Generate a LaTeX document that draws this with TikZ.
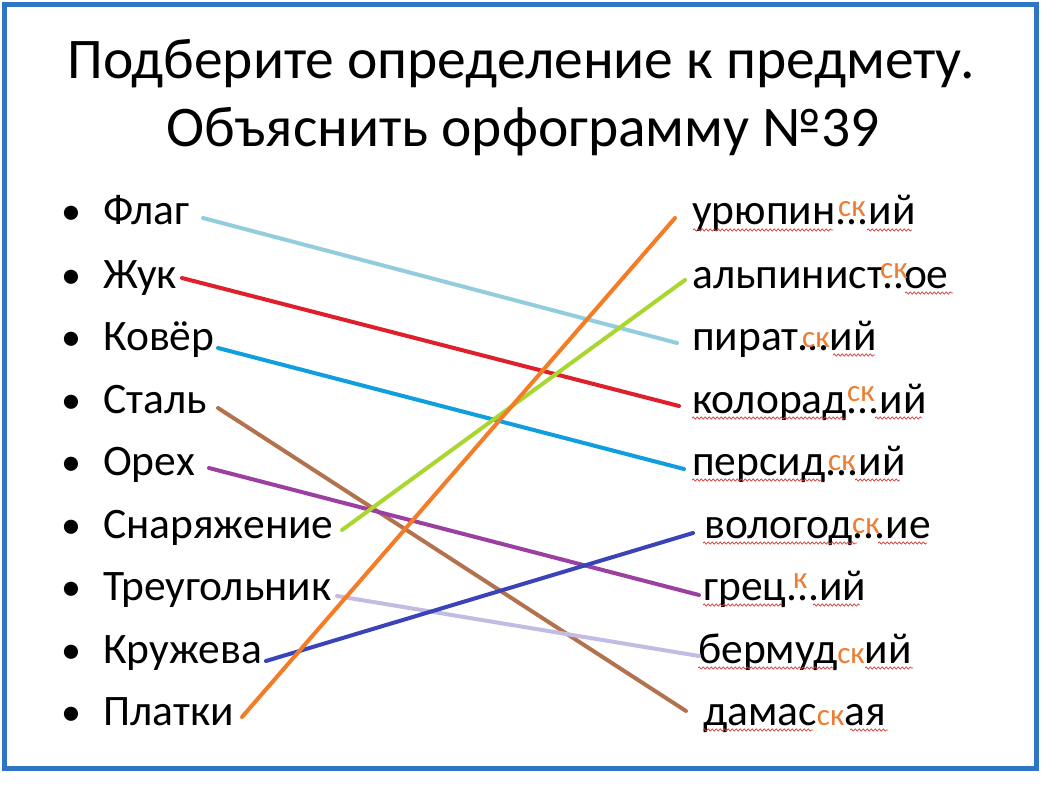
\documentclass[tikz,border=0pt]{standalone}
\usepackage{fontspec}
\setmainfont{Carlito}
\usetikzlibrary{decorations.pathmorphing}
\definecolor{frameblue}{RGB}{46,117,198}
\definecolor{skorange}{RGB}{237,125,49}
\definecolor{lorange}{RGB}{244,124,36}
\definecolor{lgreen}{RGB}{170,214,48}
\definecolor{lsky}{RGB}{146,205,222}
\definecolor{lred}{RGB}{222,32,44}
\definecolor{lblue}{RGB}{16,158,222}
\definecolor{ldark}{RGB}{58,68,184}
\definecolor{lpurple}{RGB}{155,63,160}
\definecolor{llav}{RGB}{194,188,226}
\definecolor{lbrown}{RGB}{178,114,78}
\definecolor{spellred}{RGB}{210,60,60}
\tikzset{
  word/.style={anchor=base west, inner sep=0pt, font=\fontsize{43.5}{52}\selectfont, text=black},
  bul/.style={anchor=base west, inner sep=0pt, font=\fontsize{40}{48}\selectfont, text=black},
  ttl/.style={anchor=base, inner sep=0pt, font=\fontsize{57.5}{69}\selectfont, text=black},
  sk/.style={anchor=base west, inner sep=0pt, font=\fontsize{31}{37}\selectfont, text=skorange},
  link/.style={line width=4pt, line cap=round},
  squiggle/.style={draw=spellred, line width=0.7pt, decorate, decoration={snake, amplitude=1.1pt, segment length=4pt}},
}
\newcommand{\skc}[1]{{\fontsize{31}{37}\selectfont\color{skorange}#1}}
\begin{document}
\begin{tikzpicture}[x=1pt,y=-1pt]
\useasboundingbox (0,0) rectangle (1054,786);
\fill[white] (0,0) rectangle (1054,786);
\draw[frameblue, line width=5pt] (4.5,4.5) rectangle (1036,768);

% title
\node[ttl] (t1) at (521,79) {Подберите определение к предмету.};
\node[ttl] (t2) at (523,147) {Объяснить орфограмму №39};

% bullets and left words
\foreach \y/\n/\w in {225/l1/Флаг, 288/l2/Жук, 350/l3/Ковёр, 413/l4/Сталь, 475/l5/Орех, 538/l6/Снаряжение, 600/l7/Треугольник, 663/l8/Кружева, 725/l9/Платки}{
  \node[bul] (b\n) at (61,\y) {•};
  \node[word] (\n) at (103,\y) {\w};
}

% right words
\node[word] (r1) at (692,225) {урюпин...ий};
\node[word] (r2) at (692,288) {альпинист..ое};
\node[word] (r3) at (692,350) {пират...ий};
\node[word] (r4) at (692,413) {колорад...ий};
\node[word] (r5) at (692,475) {персид...ий};
\node[word] (r6) at (704,538) {вологод...ие};
\node[word] (r7) at (703,600) {грец...ий};
\node[word] (r8) at (698,663) {бермуд\skc{ск}ий};
\node[word] (r9) at (703,725) {дамас\skc{ск}ая};

% orange inserted letters
\node[sk] (s1) at (838,217) {ск};
\node[sk] (s2) at (880,278) {ск};
\node[sk] (s3) at (802,347) {ск};
\node[sk] (s4) at (847,401) {ск};
\node[sk] (s5) at (828,470) {ск};
\node[sk] (s6) at (852,533) {ск};
\node[sk] (s7) at (793,588) {к};

% spell-check underlines
\draw[squiggle] (693,230) -- (833,230);
\draw[squiggle] (867,230) -- (912,230);
\draw[squiggle] (905,293) -- (953,293);
\draw[squiggle] (833,355) -- (875,355);
\draw[squiggle] (692,418) -- (845,418);
\draw[squiggle] (875,418) -- (922,418);
\draw[squiggle] (692,480) -- (822,480);
\draw[squiggle] (855,480) -- (900,480);
\draw[squiggle] (703,543) -- (857,543);
\draw[squiggle] (878,543) -- (927,543);
\draw[squiggle] (703,605) -- (782,605);
\draw[squiggle] (813,605) -- (860,605);
\draw[squiggle] (698,668) -- (833,668);
\draw[squiggle] (865,668) -- (913,668);
\draw[squiggle] (703,730) -- (813,730);
\draw[squiggle] (850,730) -- (888,730);

% connector end points
\coordinate (a1) at (203,218);
\coordinate (a2) at (182,278);
\coordinate (a3) at (218,348);
\coordinate (a4) at (218,408);
\coordinate (a5) at (209,468);
\coordinate (a6) at (342,530);
\coordinate (a7) at (337,596);
\coordinate (a8) at (266,661);
\coordinate (a9) at (242,717);
\coordinate (e1) at (675,218);
\coordinate (e2) at (685,280);
\coordinate (e3) at (677,343);
\coordinate (e4) at (679,406);
\coordinate (e5) at (684,469);
\coordinate (e6) at (693,533);
\coordinate (e7) at (699,595);
\coordinate (e8) at (699,656);
\coordinate (e9) at (686,711);

\draw[link, lsky] (a1) -- (e3);
\draw[link, lred] (a2) -- (e4);
\draw[link, lblue] (a3) -- (e5);
\draw[link, lbrown] (a4) -- (e9);
\draw[link, lpurple] (a5) -- (e7);
\draw[link, llav] (a7) -- (e8);
\draw[link, ldark] (a8) -- (e6);
\draw[link, lgreen] (a6) -- (e2);
\draw[link, lorange] (a9) -- (e1);
\end{tikzpicture}
\end{document}
